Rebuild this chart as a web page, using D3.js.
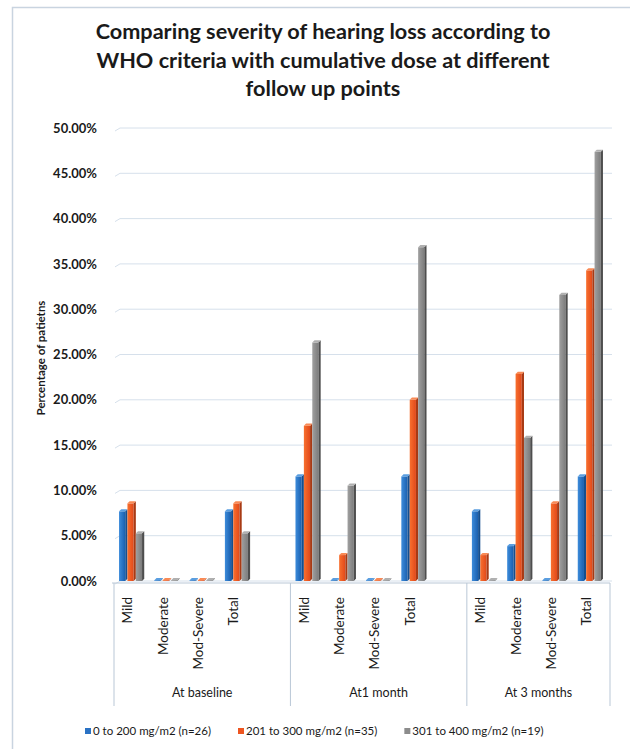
<!DOCTYPE html>
<html>
<head>
<meta charset="utf-8">
<script src="https://cdnjs.cloudflare.com/ajax/libs/d3/7.8.5/d3.min.js"></script>
<style>
  html, body { margin:0; padding:0; background:#fff; }
  text { font-family: Lato, "Open Sans", sans-serif; fill:#1a1a1a; }
</style>
</head>
<body>
<svg id="chart" width="630" height="749"></svg>
<script>
// data (percent of patients)
var groups = ["At baseline", "At1 month", "At 3 months"];
var severity = ["Mild", "Moderate", "Mod-Severe", "Total"];
var seriesNames = ["0 to 200 mg/m2 (n=26)", "201 to 300 mg/m2 (n=35)", "301  to 400 mg/m2 (n=19)"];
var dose0to200   = [7.69, 0, 0, 7.69,   11.54, 0, 0, 11.54,   7.69, 3.85, 0, 11.54];
var dose201to300 = [8.57, 0, 0, 8.57,   17.14, 2.86, 0, 20.00, 2.86, 22.86, 8.57, 34.29];
var dose301to400 = [5.26, 0, 0, 5.26,   26.32, 10.53, 0, 36.84, 0, 15.79, 31.58, 47.37];
var yTicks = [0, 5, 10, 15, 20, 25, 30, 35, 40, 45, 50];
var titleLines = ["Comparing severity of hearing loss according to",
                  "WHO criteria with cumulative dose at different",
                  "follow up points"];

var colors = [
  {light:"#3d8cdb", dark:"#1a5fae", side:"#154f8f", top:"#5a9ee0", key:"#2a72c4"},
  {light:"#f8702f", dark:"#e2491a", side:"#a83a14", top:"#f98a55", key:"#ee5520"},
  {light:"#a0a0a0", dark:"#7c7c7c", side:"#4e4e4e", top:"#b0b0b0", key:"#8c8c8c"}
];
var series = [dose0to200, dose201to300, dose301to400];

var svg = d3.select("#chart");

// outer frame
svg.append("rect")
  .attr("x", 12.5).attr("y", 7.5)
  .attr("width", 640).attr("height", 760)
  .attr("fill", "#fff").attr("stroke", "#c9d4e0").attr("stroke-width", 1.5);

// title, fitted to the reference width
titleLines.forEach(function(t, i) {
  var el = svg.append("text")
    .attr("x", 323).attr("y", 39 + i * 28.5)
    .attr("text-anchor", "middle")
    .style("font-size", "22px").style("font-weight", "bold")
    .text(t);
  if (i == 0) {
    var w = el.node().getComputedTextLength();
    window.titleSize = 22 * 455 / w;
  }
  el.style("font-size", window.titleSize + "px");
});

// slots: four severities per follow-up point, a blank slot between points
var slots = [];
groups.forEach(function(g, gi) {
  severity.forEach(function(s, si) {
    slots.push({key: g + "|" + s, group: g, sev: s, idx: gi * 4 + si});
  });
  if (gi < groups.length - 1) slots.push({key: g + "|blank", group: g, sev: null});
});

var x = d3.scaleBand().domain(slots.map(function(d) { return d.key; }))
  .range([114, 608]).padding(0);
var xs = d3.scaleBand().domain([0, 1, 2])
  .range([0, x.bandwidth()]).paddingInner(0).paddingOuter(0.6);
var y = d3.scaleLinear().domain([0, 50]).range([581, 128]);

// gridlines with a small 3D wall kink on the left
var grid = svg.append("g");
yTicks.forEach(function(t) {
  var yy = y(t);
  grid.append("path")
    .attr("d", "M115," + (yy + 3) + " L120," + yy + " L612," + yy)
    .attr("fill", "none").attr("stroke", "#d6e0eb").attr("stroke-width", 1);
});

// y axis labels
svg.append("g").attr("transform", "translate(97,0)")
  .call(d3.axisLeft(y).tickValues(yTicks).tickSize(0).tickPadding(0)
    .tickFormat(function(d) { return d.toFixed(2) + "%"; }))
  .call(function(g) { g.select(".domain").remove(); })
  .selectAll("text")
  .style("font-family", "Lato, sans-serif")
  .style("font-size", "13px").style("font-weight", "bold")
  .attr("fill", "#222");

svg.append("text")
  .attr("transform", "translate(45,358) rotate(-90)")
  .attr("text-anchor", "middle")
  .style("font-size", "11.5px").style("font-weight", "bold")
  .text("Percentage of patietns");

// gradients
var defs = svg.append("defs");
colors.forEach(function(c, i) {
  var lg = defs.append("linearGradient").attr("id", "front" + i)
    .attr("x1", "0").attr("x2", "1").attr("y1", "0").attr("y2", "0");
  lg.append("stop").attr("offset", "0").attr("stop-color", c.light);
  lg.append("stop").attr("offset", "1").attr("stop-color", c.dark);
});

// 3D bars
var depth = 2.2;
var bars = svg.append("g");
slots.filter(function(d) { return d.sev; }).forEach(function(s) {
  series.forEach(function(vals, si) {
    var v = vals[s.idx];
    var x0 = x(s.key) + xs(si);
    var w = xs.bandwidth() - depth;
    var y0 = y(0), y1 = Math.min(y(v), y0 - 0.8);
    var c = colors[si];
    bars.append("rect")
      .attr("x", x0).attr("y", y1)
      .attr("width", w).attr("height", y0 - y1)
      .attr("fill", "url(#front" + si + ")");
    bars.append("path")
      .attr("d", "M" + (x0 + w) + "," + y1 + " L" + (x0 + w + depth) + "," + (y1 - depth) +
        " L" + (x0 + w + depth) + "," + (y0 - depth) + " L" + (x0 + w) + "," + y0 + "Z")
      .attr("fill", c.side);
    bars.append("path")
      .attr("d", "M" + x0 + "," + y1 + " L" + (x0 + depth) + "," + (y1 - depth) +
        " L" + (x0 + w + depth) + "," + (y1 - depth) + " L" + (x0 + w) + "," + y1 + "Z")
      .attr("fill", c.top);
  });
});

// floor edge and group separators
var axisCol = "#b9c7d6";
svg.append("line")
  .attr("x1", 112).attr("x2", 610).attr("y1", 583).attr("y2", 583)
  .attr("stroke", axisCol).attr("stroke-width", 1);
var seps = [x(slots[0].key), x(slots[5].key), x(slots[10].key), 610];
seps.forEach(function(sx) {
  svg.append("line")
    .attr("x1", sx).attr("x2", sx).attr("y1", 583).attr("y2", 706)
    .attr("stroke", axisCol).attr("stroke-width", 1);
});

// category labels
slots.filter(function(d) { return d.sev; }).forEach(function(s) {
  var cx = x(s.key) + x.bandwidth() / 2 - 4;
  svg.append("text")
    .attr("transform", "translate(" + cx + ",597) rotate(-90)")
    .attr("text-anchor", "end").attr("dy", "0.35em")
    .style("font-size", "13.5px")
    .text(s.sev);
});

// group labels
groups.forEach(function(g, gi) {
  var gx = (seps[gi] + seps[gi + 1]) / 2;
  svg.append("text")
    .attr("x", gx).attr("y", 697)
    .attr("text-anchor", "middle")
    .style("font-size", "12.5px")
    .text(g);
});

// legend
var legend = svg.append("g");
var lx = 85;
seriesNames.forEach(function(n, i) {
  legend.append("rect")
    .attr("x", lx).attr("y", 728).attr("width", 6).attr("height", 6)
    .attr("fill", colors[i].key);
  var t = legend.append("text")
    .attr("x", lx + 8).attr("y", 735)
    .style("font-size", "11.5px")
    .text(n);
  var tw = t.node().getComputedTextLength();
  lx += 8 + tw + 27;
});
</script>
</body>
</html>
